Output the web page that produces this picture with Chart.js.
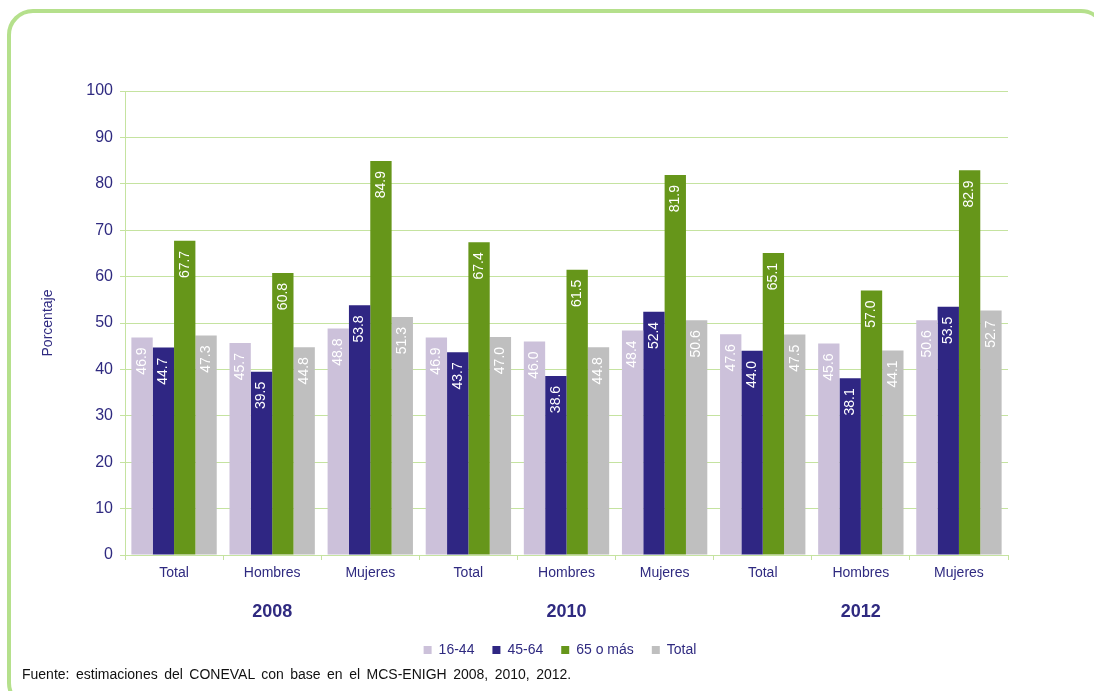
<!DOCTYPE html>
<html>
<head>
<meta charset="utf-8">
<script src="https://cdn.jsdelivr.net/npm/chart.js@4"></script>
<style>
  html, body { margin: 0; padding: 0; background: #fff; overflow: hidden; }
  #wrap { position: relative; width: 1094px; height: 691px; }
  #frame {
    position: absolute; left: 7px; top: 9px; width: 1100px; height: 700px;
    border: 4px solid #b5e08c; border-radius: 26px; box-sizing: border-box;
  }
  #chart { position: absolute; left: 0; top: 0; }
  #fuente {
    position: absolute; left: 22px; top: 666px; word-spacing: 2.6px;
    font: 14px "Liberation Sans", Arial, sans-serif; color: #111;
  }
</style>
</head>
<body>
<div id="wrap">
  <div id="frame"></div>
  <canvas id="chart" width="1094" height="691"></canvas>
  <div id="fuente">Fuente: estimaciones del CONEVAL con base en el MCS-ENIGH 2008, 2010, 2012.</div>
</div>
<script>
const categories = ['Total', 'Hombres', 'Mujeres', 'Total', 'Hombres', 'Mujeres', 'Total', 'Hombres', 'Mujeres']
const years = ['2008', '2010', '2012']
const edad16a44 = [46.9, 45.7, 48.8, 46.9, 46.0, 48.4, 47.6, 45.6, 50.6]
const edad45a64 = [44.7, 39.5, 53.8, 43.7, 38.6, 52.4, 44.0, 38.1, 53.5]
const edad65mas = [67.7, 60.8, 84.9, 67.4, 61.5, 81.9, 65.1, 57.0, 82.9]
const edadTotal = [47.3, 44.8, 51.3, 47.0, 44.8, 50.6, 47.5, 44.1, 52.7]
const yTicks = [0, 10, 20, 30, 40, 50, 60, 70, 80, 90, 100]

const purple = '#2f2a80'
const gridGreen = '#c5e3a0'
const font = "'Liberation Sans', Arial, sans-serif"

// rotated value labels inside the top of each bar
const barLabels = {
  id: 'barLabels',
  afterLayout(chart) {
    // legend sits centred under the plot, not the whole canvas
    chart.legend.left += 36
    chart.legend.right += 36
  },
  afterDatasetsDraw(chart) {
    let ctx = chart.ctx
    ctx.save()
    ctx.font = '14px ' + font
    ctx.fillStyle = '#ffffff'
    ctx.textAlign = 'right'
    ctx.textBaseline = 'middle'
    chart.data.datasets.forEach((ds, i) => {
      chart.getDatasetMeta(i).data.forEach((bar, j) => {
        ctx.save()
        ctx.translate(bar.x, bar.y + 10)
        ctx.rotate(-Math.PI / 2)
        ctx.fillText(ds.data[j].toFixed(1), 0, 0)
        ctx.restore()
      })
    })
    ctx.restore()
  }
}

document.addEventListener('DOMContentLoaded', () => {
  let ctx = document.getElementById('chart').getContext('2d')

  let data = {
    labels: categories,
    datasets: [
      { label: '16-44', data: edad16a44, backgroundColor: '#ccc1da' },
      { label: '45-64', data: edad45a64, backgroundColor: '#2f2683' },
      { label: '65 o más', data: edad65mas, backgroundColor: '#66961a' },
      { label: 'Total', data: edadTotal, backgroundColor: '#bfbfbf' }
    ]
  }

  new Chart(ctx, {
    type: 'bar',
    data: data,
    plugins: [barLabels],
    options: {
      responsive: false,
      animation: false,
      datasets: { bar: { categoryPercentage: 0.87, barPercentage: 1.0 } },
      layout: { padding: { left: 40, right: 86, top: 91, bottom: 24 } },
      plugins: {
        tooltip: { enabled: false },
        legend: {
          position: 'bottom',
          labels: {
            boxWidth: 8, boxHeight: 8, padding: 18,
            color: purple, font: { family: font, size: 14 }
          }
        }
      },
      scales: {
        y: {
          min: 0, max: 100,
          afterBuildTicks: s => { s.ticks = yTicks.map(v => ({ value: v })) },
          afterFit: s => { s.width = 85 },
          title: {
            display: true, text: 'Porcentaje', color: purple,
            font: { family: font, size: 14 }, padding: { top: 0, bottom: 12 }
          },
          ticks: { color: purple, font: { family: font, size: 16 }, padding: 7 },
          grid: { color: gridGreen, tickLength: 5 },
          border: { color: gridGreen }
        },
        x: {
          afterFit: s => { s.height = 30 },
          ticks: { color: purple, font: { family: font, size: 14 }, padding: 5 },
          grid: { drawOnChartArea: false, offset: true, tickLength: 5, color: gridGreen },
          border: { color: gridGreen }
        },
        x2: {
          type: 'category',
          labels: years,
          position: 'bottom',
          afterFit: s => { s.height = 40 },
          ticks: { color: purple, font: { family: font, size: 18, weight: 'bold' }, padding: 16 },
          grid: { display: false, drawTicks: false },
          border: { display: false }
        }
      }
    }
  })
})
</script>
</body>
</html>
